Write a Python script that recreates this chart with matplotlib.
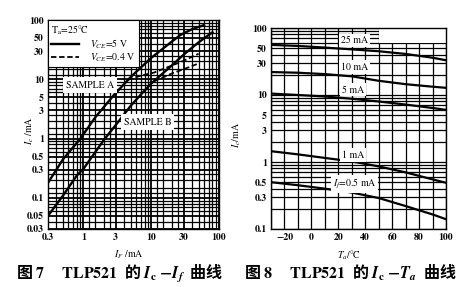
import matplotlib.pyplot as plt
from matplotlib.lines import Line2D
from matplotlib.patches import Rectangle
from matplotlib.ticker import LogLocator, NullFormatter, MultipleLocator

plt.rcParams['font.family'] = ['STIXGeneral', 'Noto Sans CJK SC', 'DejaVu Sans']
plt.rcParams['mathtext.fontset'] = 'stix'

# 图7: Ic - If, 两个样品, Vce = 5 V (实线) 与 0.4 V (虚线)
if_a = [0.3, 0.5, 0.9, 1.5, 2.8, 5, 10, 20, 27, 40, 60]
ic_a = [0.18, 0.45, 1.0, 2.3, 5.4, 11, 23, 43, 56, 70, 82]
if_b = [0.3, 0.5, 0.8, 1, 2, 3, 5, 7, 10, 20, 30, 50, 80]
ic_b = [0.05, 0.11, 0.24, 0.31, 0.95, 1.7, 3.6, 5.5, 8.5, 17, 26, 42, 62]
if_a_sat = [4.5, 7, 11, 20, 30, 50]
ic_a_sat = [9.8, 11.5, 13, 17, 20.5, 27]
if_b_sat = [11, 20, 30, 50]
ic_b_sat = [9.3, 12.5, 14.8, 18.5]

# 图8: Ic - Ta, 不同 If
ta = [-30, -10, 10, 30, 50, 70, 90, 100]
ic_ta = {
    '25 mA': [56, 54, 51, 48, 45, 41, 36, 33],
    '10 mA': [22, 21.5, 20.5, 19, 16.3, 14.5, 13.3, 12.8],
    '5 mA': [10.5, 10, 9.5, 8.8, 8, 7.2, 6.4, 6],
    '1 mA': [1.45, 1.3, 1.15, 1.02, 0.86, 0.7, 0.55, 0.49],
    '$I_f$=0.5 mA': [0.5, 0.45, 0.4, 0.35, 0.29, 0.22, 0.165, 0.14],
}
# 曲线标注位置 (Ta, Ic)
label_pos = {
    '25 mA': (32, 65),
    '10 mA': (32, 26),
    '5 mA': (31, 12),
    '1 mA': (31, 1.27),
    '$I_f$=0.5 mA': (32, 0.465),
}

ticks_if = [0.3, 1, 3, 10, 30, 100]
ticks_ic1 = [0.03, 0.05, 0.1, 0.3, 0.5, 1, 3, 5, 10, 30, 50, 100]
ticks_ta = [-20, 0, 20, 40, 60, 80, 100]
ticks_ic2 = [0.1, 0.3, 0.5, 1, 3, 5, 10, 30, 50, 100]

FS = 7
fig = plt.figure(figsize=(4.62, 2.87), dpi=100)
ax1 = fig.add_axes([48 / 462, 58 / 287, 171 / 462, 209 / 287])
ax2 = fig.add_axes([271 / 462, 58 / 287, 175 / 462, 201 / 287])

grid_subs = [1, 1.2, 1.5, 2, 2.5, 3, 4, 5, 6, 7, 8, 9]


def fmt(v):
    return ('%g' % v)


# ---- 图7 ----
ax1.set_xscale('log')
ax1.set_yscale('log')
ax1.set_xlim(0.3, 100)
ax1.set_ylim(0.03, 100)
ax1.set_xticks(ticks_if, [fmt(v) for v in ticks_if])
ax1.set_yticks(ticks_ic1, [fmt(v) for v in ticks_ic1])
for axis in (ax1.xaxis, ax1.yaxis):
    axis.set_minor_locator(LogLocator(base=10, subs=grid_subs, numticks=100))
    axis.set_minor_formatter(NullFormatter())
ax1.set_axisbelow(True)
ax1.grid(True, which='minor', color='black', lw=0.9)
ax1.grid(True, which='major', color='black', lw=1.3)

ax1.plot(if_a, ic_a, color='black', lw=1.7, zorder=4)
ax1.plot(if_b, ic_b, color='black', lw=1.7, zorder=4)
ax1.plot(if_a_sat, ic_a_sat, color='black', lw=1.3, dashes=(3, 1.5), zorder=4)
ax1.plot(if_b_sat, ic_b_sat, color='black', lw=1.3, dashes=(3, 1.5), zorder=4)

ax1.annotate('SAMPLE A', xy=(3.1, 7.0), xytext=(0.55, 8), fontsize=FS,
             va='center', ha='left', zorder=5,
             bbox=dict(boxstyle='square,pad=0.3', fc='white', ec='none'),
             arrowprops=dict(arrowstyle='->', lw=0.8, color='black',
                             shrinkA=0, shrinkB=0))
ax1.text(3.9, 1.9, 'SAMPLE B', fontsize=FS, va='center', ha='left', zorder=5,
         bbox=dict(boxstyle='square,pad=0.3', fc='white', ec='none'))

handles = [Line2D([], [], color='black', lw=1.7),
           Line2D([], [], color='black', lw=1.3, dashes=(3, 1.5))]
leg = ax1.legend(handles, [r'$V_{CE}$=5 V', r'$V_{CE}$=0.4 V'],
                 title=r'T$_{\rm a}$=25°C', loc='upper left',
                 borderaxespad=0, fontsize=FS, title_fontsize=FS,
                 handlelength=2.8, handletextpad=1.2, borderpad=0.35,
                 labelspacing=0.05, alignment='left', fancybox=False,
                 framealpha=1, edgecolor='black')
leg.get_frame().set_linewidth(0.8)
leg.set_zorder(6)

ax1.set_xlabel(r'$I_F$ /mA', fontsize=FS)
ax1.set_ylabel(r'$I_c$ /mA', fontsize=FS)
ax1.xaxis.set_label_coords(0.47, -0.091)
ax1.yaxis.set_label_coords(-0.07, 0.47)

# ---- 图8 ----
ax2.set_yscale('log')
ax2.set_xlim(-30, 100)
ax2.set_ylim(0.1, 100)
ax2.set_xticks(ticks_ta, ['\u2212%d' % -v if v < 0 else '%d' % v for v in ticks_ta])
ax2.set_yticks(ticks_ic2, [fmt(v) for v in ticks_ic2])
ax2.xaxis.set_minor_locator(MultipleLocator(10))
ax2.yaxis.set_minor_locator(LogLocator(base=10, subs=range(1, 10), numticks=100))
ax2.yaxis.set_minor_formatter(NullFormatter())
ax2.set_axisbelow(True)
ax2.grid(True, which='both', color='black', lw=0.9)
ax2.add_patch(Rectangle((50, 60), 50, 40, fc='white', ec='none', zorder=1))

for name, vals in ic_ta.items():
    ax2.plot(ta, vals, color='black', lw=1.6, zorder=4)
    tx, ty = label_pos[name]
    ax2.text(tx, ty, name, fontsize=FS, ha='center', va='center', zorder=5,
             bbox=dict(boxstyle='square,pad=0.2', fc='white', ec='none'))

ax2.set_xlabel(r'$T_a$/°C', fontsize=FS)
ax2.set_ylabel(r'$I_c$/mA', fontsize=FS)
ax2.xaxis.set_label_coords(0.446, -0.095)
ax2.yaxis.set_label_coords(-0.16, 0.47)

for ax in (ax1, ax2):
    ax.tick_params(which='both', length=0, labelsize=FS, pad=3)
    for lab in ax.get_xticklabels() + ax.get_yticklabels():
        lab.set_fontweight('bold')
    for s in ax.spines.values():
        s.set_linewidth(1.0)

cap = dict(ha='center', va='center', fontsize=11.5, weight='bold',
           family=['Noto Sans CJK SC'])
fig.text(120 / 462, 1 - 273 / 287,
         r'图 $\mathbf{7}$     $\mathbf{TLP521}$  的 $\mathbfit{I}_{\mathbf{c}}\ \mathbf{-}\mathbfit{I}_{\mathbfit{f}}$  曲线', **cap)
fig.text(350 / 462, 1 - 273 / 287,
         r'图 $\mathbf{8}$     $\mathbf{TLP521}$  的 $\mathbfit{I}_{\mathbf{c}}\ \mathbf{-}\mathbfit{T}_{\mathbfit{a}}$  曲线', **cap)

fig.savefig('out.png', dpi=100, facecolor='white')
